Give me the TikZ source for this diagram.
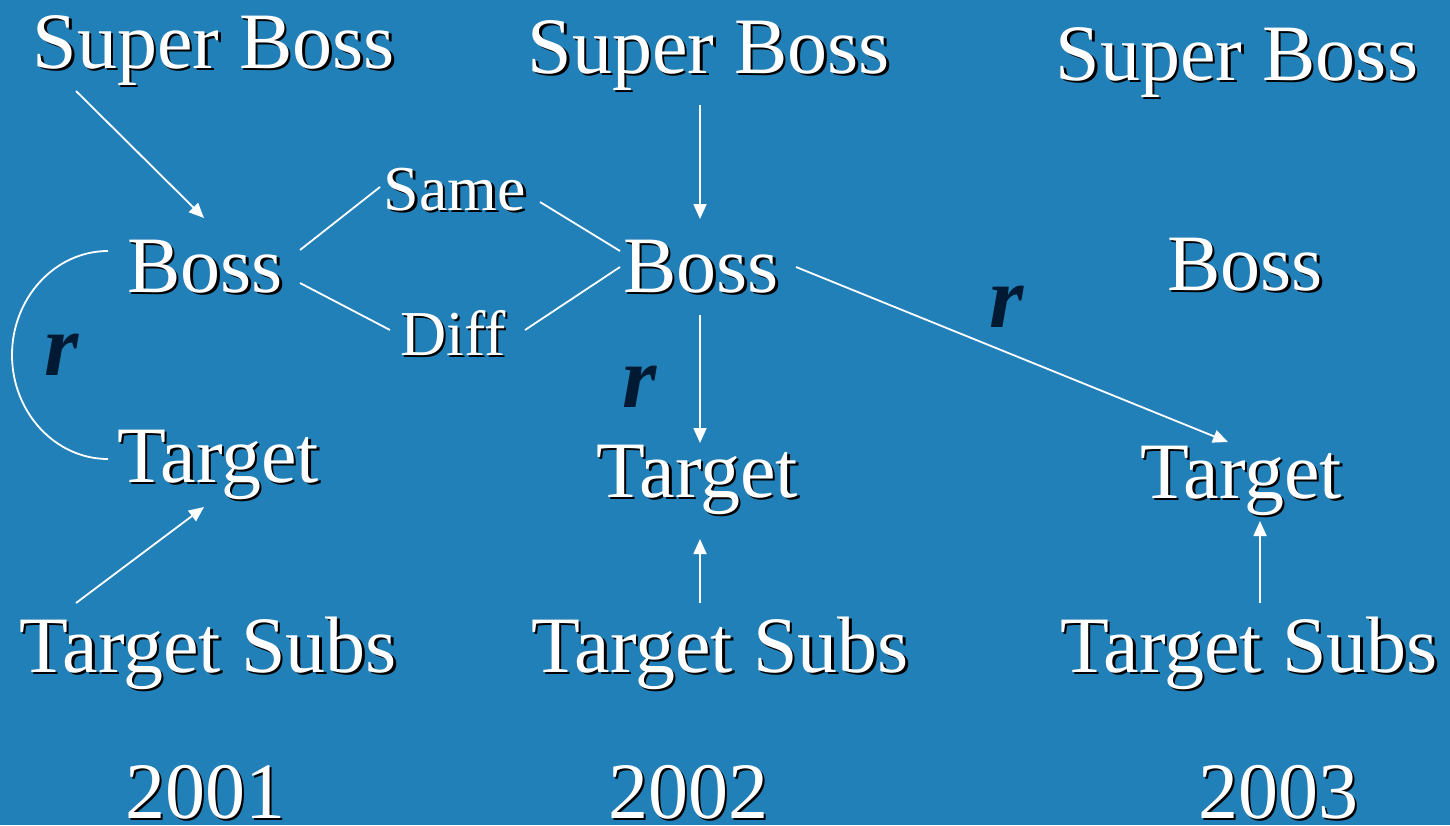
\documentclass[tikz,border=0pt]{standalone}
\usepackage{fontspec}
\setmainfont{Liberation Serif}
\usetikzlibrary{arrows.meta}
\definecolor{bgblue}{RGB}{34,128,184}
\definecolor{rnavy}{RGB}{0,26,51}
\newcommand\shtext[1]{\rlap{\kern2.5pt\raisebox{-2.5pt}{\textcolor{black}{#1}}}#1}
\tikzset{
  lbl/.style={anchor=base, inner sep=0pt, text=white, font=\fontsize{80}{96}\selectfont},
  small/.style={anchor=base, inner sep=0pt, text=white, font=\fontsize{64}{76}\selectfont},
  rlbl/.style={anchor=base, inner sep=0pt, text=rnavy, font=\fontsize{88}{100}\selectfont\bfseries\itshape},
  conn/.style={draw=white, line width=1.8pt},
  arr/.style={conn, -{Triangle[length=15pt,width=13pt]}}
}
\begin{document}
\begin{tikzpicture}[x=1pt,y=-1pt]
\useasboundingbox (0,0) rectangle (1450,825);
\fill[bgblue] (0,0) rectangle (1450,825);
% column 1
\node[lbl] (sb1) at (214,68) {\shtext{Super Boss}};
\node[lbl] (boss1) at (205,292) {\shtext{Boss}};
\node[lbl] (tgt1) at (218,482) {\shtext{Target}};
\node[lbl] (ts1) at (208,672) {\shtext{Target Subs}};
\node[lbl] (y1) at (205,818) {\shtext{2001}};
% column 2
\node[lbl] (sb2) at (709,73) {\shtext{Super Boss}};
\node[lbl] (boss2) at (701,292) {\shtext{Boss}};
\node[lbl] (tgt2) at (697,497) {\shtext{Target}};
\node[lbl] (ts2) at (720,672) {\shtext{Target Subs}};
\node[lbl] (y2) at (688,818) {\shtext{2002}};
% column 3
\node[lbl] (sb3) at (1237,80) {\shtext{Super Boss}};
\node[lbl] (boss3) at (1245,290) {\shtext{Boss}};
\node[lbl] (tgt3) at (1241,498) {\shtext{Target}};
\node[lbl] (ts3) at (1249,672) {\shtext{Target Subs}};
\node[lbl] (y3) at (1278,818) {\shtext{2003}};
% Same / Diff
\node[small] (same) at (455,210) {\shtext{Same}};
\node[small] (diff) at (453,355) {\shtext{Diff}};
% r labels
\node[rlbl] (r1) at (62,375) {r};
\node[rlbl] (r2) at (640,407) {r};
\node[rlbl] (r3) at (1007,327) {r};
% connector end points
\coordinate (sb1o) at (76,91);
\coordinate (boss1i) at (204,218);
\coordinate (boss1a) at (300,250);
\coordinate (samel) at (380,187);
\coordinate (samer) at (540,202);
\coordinate (boss2a) at (620,251);
\coordinate (boss1b) at (300,283);
\coordinate (diffl) at (390,330);
\coordinate (diffr) at (525,330);
\coordinate (boss2b) at (620,267);
\coordinate (boss1c) at (108,251);
\coordinate (tgt1c) at (108,459);
\coordinate (ts1o) at (76,603);
\coordinate (tgt1i) at (204,507);
\coordinate (sb2o) at (700,105);
\coordinate (boss2i) at (700,219);
\coordinate (boss2o) at (700,315);
\coordinate (tgt2i) at (700,443);
\coordinate (boss2r) at (796,267);
\coordinate (tgt3i) at (1228,442);
\coordinate (ts2o) at (700,603);
\coordinate (tgt2b) at (700,539);
\coordinate (ts3o) at (1260,603);
\coordinate (tgt3b) at (1260,521);
% connectors
\draw[arr] (sb1o) -- (boss1i);
\draw[conn] (boss1a) -- (samel);
\draw[conn] (samer) -- (boss2a);
\draw[conn] (boss1b) -- (diffl);
\draw[conn] (diffr) -- (boss2b);
\draw[conn] (boss1c) .. controls (55,251) and (12,298) .. (12,355)
                     .. controls (12,412) and (55,459) .. (tgt1c);
\draw[arr] (ts1o) -- (tgt1i);
\draw[arr] (sb2o) -- (boss2i);
\draw[arr] (boss2o) -- (tgt2i);
\draw[arr] (boss2r) -- (tgt3i);
\draw[arr] (ts2o) -- (tgt2b);
\draw[arr] (ts3o) -- (tgt3b);
\end{tikzpicture}
\end{document}
